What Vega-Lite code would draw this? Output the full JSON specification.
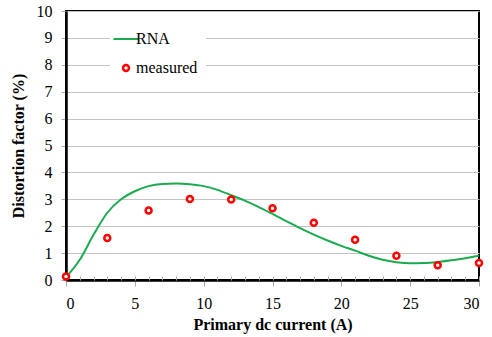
{
  "$schema": "https://vega.github.io/schema/vega-lite/v6.json",
  "width": 413,
  "height": 269,
  "autosize": {"type": "none"},
  "padding": {"left": 66, "top": 11, "right": 13, "bottom": 57},
  "background": "white",
  "config": {
    "view": {"stroke": "black", "strokeWidth": 2},
    "font": "Liberation Serif",
    "axis": {
      "labelFont": "Liberation Serif", "labelFontSize": 16, "labelColor": "black",
      "titleFont": "Liberation Serif", "titleFontSize": 16, "titleFontWeight": "bold", "titleColor": "black",
      "domainColor": "black", "domainWidth": 2.5, "tickColor": "#a8a8a8", "gridColor": "#c4c4c4", "gridWidth": 1.2
    }
  },
  "datasets": {
    "rna": [
      {"current": 0, "distortion": 0.1, "series": "RNA"},
      {"current": 1, "distortion": 0.75, "series": "RNA"},
      {"current": 2, "distortion": 1.68, "series": "RNA"},
      {"current": 3, "distortion": 2.5, "series": "RNA"},
      {"current": 4, "distortion": 3.0, "series": "RNA"},
      {"current": 5, "distortion": 3.3, "series": "RNA"},
      {"current": 6, "distortion": 3.49, "series": "RNA"},
      {"current": 7, "distortion": 3.57, "series": "RNA"},
      {"current": 8, "distortion": 3.59, "series": "RNA"},
      {"current": 9, "distortion": 3.56, "series": "RNA"},
      {"current": 10, "distortion": 3.49, "series": "RNA"},
      {"current": 11, "distortion": 3.35, "series": "RNA"},
      {"current": 12, "distortion": 3.15, "series": "RNA"},
      {"current": 13, "distortion": 2.95, "series": "RNA"},
      {"current": 14, "distortion": 2.71, "series": "RNA"},
      {"current": 15, "distortion": 2.46, "series": "RNA"},
      {"current": 16, "distortion": 2.19, "series": "RNA"},
      {"current": 17, "distortion": 1.93, "series": "RNA"},
      {"current": 18, "distortion": 1.69, "series": "RNA"},
      {"current": 19, "distortion": 1.47, "series": "RNA"},
      {"current": 20, "distortion": 1.27, "series": "RNA"},
      {"current": 21, "distortion": 1.09, "series": "RNA"},
      {"current": 22, "distortion": 0.9, "series": "RNA"},
      {"current": 23, "distortion": 0.75, "series": "RNA"},
      {"current": 24, "distortion": 0.66, "series": "RNA"},
      {"current": 25, "distortion": 0.62, "series": "RNA"},
      {"current": 26, "distortion": 0.63, "series": "RNA"},
      {"current": 27, "distortion": 0.67, "series": "RNA"},
      {"current": 28, "distortion": 0.73, "series": "RNA"},
      {"current": 29, "distortion": 0.81, "series": "RNA"},
      {"current": 30, "distortion": 0.9, "series": "RNA"}
    ],
    "measured": [
      {"current": 0, "distortion": 0.13, "series": "measured"},
      {"current": 3, "distortion": 1.56, "series": "measured"},
      {"current": 6, "distortion": 2.58, "series": "measured"},
      {"current": 9, "distortion": 3.01, "series": "measured"},
      {"current": 12, "distortion": 2.99, "series": "measured"},
      {"current": 15, "distortion": 2.67, "series": "measured"},
      {"current": 18, "distortion": 2.13, "series": "measured"},
      {"current": 21, "distortion": 1.5, "series": "measured"},
      {"current": 24, "distortion": 0.9, "series": "measured"},
      {"current": 27, "distortion": 0.55, "series": "measured"},
      {"current": 30, "distortion": 0.63, "series": "measured"}
    ]
  },
  "resolve": {"axis": {"x": "independent"}},
  "layer": [
    {
      "data": {"name": "rna"},
      "mark": {"type": "line", "strokeWidth": 2, "interpolate": "monotone"},
      "encoding": {
        "x": {"field": "current", "type": "quantitative", "scale": {"domain": [0, 30], "nice": false},
          "axis": {"orient": "bottom", "values": [0, 5, 10, 15, 20, 25, 30], "tickSize": 6, "labelPadding": 9, "labelFont": "Liberation Serif", "titleFont": "Liberation Serif", "title": "Primary dc current (A)", "titlePadding": 5, "grid": false}},
        "y": {"field": "distortion", "type": "quantitative", "scale": {"domain": [0, 10], "nice": false},
          "axis": {"values": [0, 1, 2, 3, 4, 5, 6, 7, 8, 9, 10], "tickSize": 5, "labelPadding": 9, "labelFont": "Liberation Serif", "titleFont": "Liberation Serif", "title": "Distortion factor (%)", "titlePadding": 10, "grid": true}},
        "color": {"field": "series", "type": "nominal",
          "scale": {"domain": ["RNA", "measured"], "range": ["#1aab4e", "#ff0000"]},
          "legend": {
            "orient": "none", "legendX": 44, "legendY": 12, "title": null, "fillColor": "white", "padding": 8,
            "labelFont": "Liberation Serif", "labelFontSize": 16, "labelColor": "black", "labelOffset": 2,
            "rowPadding": 13, "symbolSize": 625, "symbolStrokeWidth": 2, "symbolType": "stroke",
            "encode": {"symbols": {"update": {
              "shape": {"signal": "datum.value === 'RNA' ? 'stroke' : 'circle'"},
              "size": {"signal": "datum.value === 'RNA' ? 625 : 36"},
              "fill": {"signal": "datum.value === 'RNA' ? 'transparent' : 'white'"},
              "stroke": {"signal": "datum.value === 'RNA' ? '#1aab4e' : '#ff0000'"},
              "strokeWidth": {"signal": "datum.value === 'RNA' ? 2 : 2.5"},
              "opacity": {"value": 1}
            }}}
          }}
      }
    },
    {
      "data": {"name": "measured"},
      "mark": {"type": "point", "filled": false, "fill": "white", "strokeWidth": 2.5, "size": 36, "opacity": 1},
      "encoding": {
        "x": {"field": "current", "type": "quantitative", "scale": {"domain": [0, 30], "nice": false},
          "axis": {"orient": "bottom", "values": [0, 1, 2, 3, 4, 5, 6, 7, 8, 9, 10, 11, 12, 13, 14, 15, 16, 17, 18, 19, 20, 21, 22, 23, 24, 25, 26, 27, 28, 29, 30], "tickSize": -4, "tickWidth": 1, "labels": false, "domain": false, "title": null, "grid": false}},
        "y": {"field": "distortion", "type": "quantitative", "scale": {"domain": [0, 10], "nice": false},
          "axis": {"values": [0, 1, 2, 3, 4, 5, 6, 7, 8, 9, 10], "tickSize": 5, "labelPadding": 9, "labelFont": "Liberation Serif", "titleFont": "Liberation Serif", "title": "Distortion factor (%)", "titlePadding": 10, "grid": true}},
        "color": {"field": "series", "type": "nominal", "scale": {"domain": ["RNA", "measured"], "range": ["#1aab4e", "#ff0000"]}}
      }
    }
  ]
}
